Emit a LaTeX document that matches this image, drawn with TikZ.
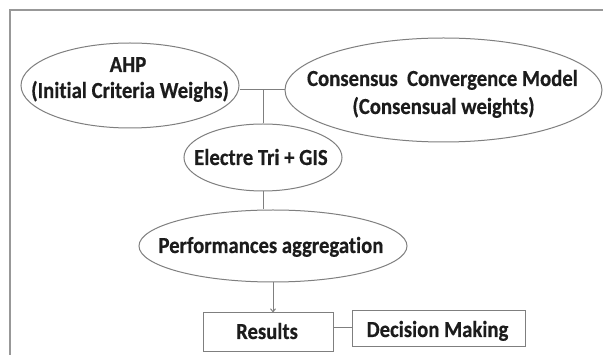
\documentclass[tikz,border=0pt]{standalone}
\usepackage{fontspec}
\setmainfont{Carlito}[FakeStretch=0.9,Ligatures=NoCommon,FakeBold=0.4]
\usetikzlibrary{shapes.geometric,arrows.meta}
\definecolor{lineg}{HTML}{7F7F7F}
\definecolor{txt}{HTML}{1C1C1C}
\begin{document}
\begin{tikzpicture}[x=1pt,y=-1pt,
  oval/.style={ellipse,draw=lineg,line width=1pt,inner sep=0pt},
  box/.style={rectangle,draw=lineg,line width=1pt,inner sep=0pt},
  lbl/.style={anchor=base,inner sep=0pt,text=txt,font=\fontsize{23}{26}\selectfont\bfseries},
  conn/.style={draw=lineg,line width=1pt}]
\useasboundingbox (0,0) rectangle (603,355);
\fill[white] (0,0) rectangle (603,355);
% frame
\draw[lineg!80,line width=1.5pt] (10,356) -- (10,10) -- (604,10);
% shapes
\node[oval,minimum width=218pt,minimum height=85pt] (ahp) at (130,85.5) {};
\node[oval,minimum width=317pt,minimum height=104pt] (ccm) at (443.5,90) {};
\node[oval,minimum width=158pt,minimum height=67pt] (ele) at (263,157.5) {};
\node[oval,minimum width=268pt,minimum height=72pt] (per) at (273,246) {};
\node[box,minimum width=130pt,minimum height=39pt] (res) at (268,332.5) {};
\node[box,minimum width=173pt,minimum height=36pt] (dm) at (438.5,329) {};
% labels
\node[lbl] (ahp1) at (128,72) {AHP};
\node[lbl] (ahp2) at (130,98) {(Initial Criteria Weighs)};
\node[lbl] (ccm1) at (442.5,86) {Consensus\ \ Convergence Model};
\node[lbl] (ccm2) at (443.5,114) {(Consensual weights)};
\node[lbl] (elet) at (261,165) {Electre Tri + GIS};
\node[lbl] (pert) at (271,253) {Performances aggregation};
\node[lbl] (rest) at (267,339) {Results};
\node[lbl] (dmt) at (437.5,337) {Decision Making};
% connectors
\coordinate (j) at (263,90);
\draw[conn] (ahp.east |- j) -- (ccm.west);
\draw[conn] (j) -- (ele.north);
\draw[conn] (ele.south) -- (ele.south |- per.north);
\draw[conn,-{Straight Barb[length=3pt,width=5pt]}] (per.south -| 273,0) -- (res.north -| 273,0);
\draw[conn] (res.east |- 0,328) -- (dm.west |- 0,328);
\end{tikzpicture}
\end{document}
